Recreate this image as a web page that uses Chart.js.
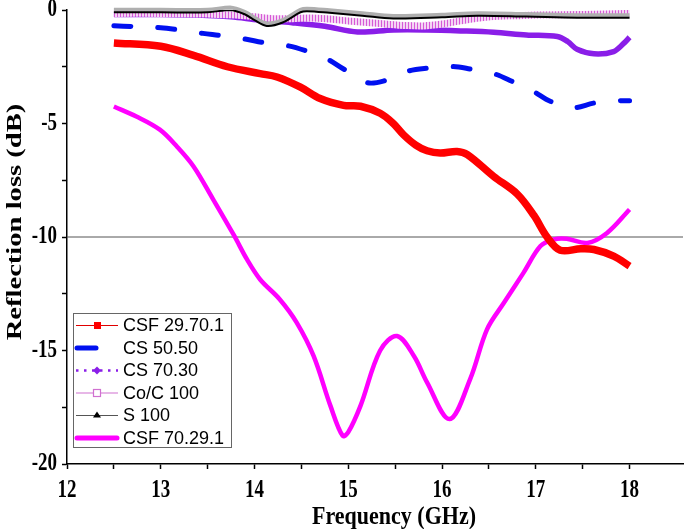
<!DOCTYPE html>
<html>
<head>
<meta charset="utf-8">
<script src="https://cdn.jsdelivr.net/npm/chart.js@4.4.0/dist/chart.umd.min.js"></script>
<style>
	html, body { margin: 0; padding: 0; background: #fff; }
	#wrap { width: 685px; height: 529px; }
</style>
</head>
<body>
<div id="wrap"><canvas id="rlChart"></canvas></div>
<script>
// values (GHz, dB)
const freqCsf29 = [12.5, 13.0, 13.35, 13.71, 14.06, 14.24, 14.49, 14.7, 14.95, 15.13, 15.34, 15.48, 15.59, 15.72, 15.84, 15.98, 16.16, 16.27, 16.55, 16.8, 16.98, 17.12, 17.26, 17.48, 17.62, 17.83, 18.0];
const lossCsf29 = [-1.45, -1.6, -2.0, -2.5, -2.8, -2.95, -3.4, -3.9, -4.2, -4.24, -4.55, -5.0, -5.5, -5.95, -6.2, -6.3, -6.23, -6.37, -7.33, -8.1, -9.05, -10.0, -10.58, -10.52, -10.55, -10.84, -11.28];

const freqCs5050 = [12.5, 12.7, 13.0, 13.2, 13.45, 13.65, 13.9, 14.1, 14.35, 14.55, 14.77, 14.95, 15.2, 15.4, 15.63, 15.85, 16.1, 16.3, 16.55, 16.76, 16.96, 17.16, 17.4, 17.62, 17.87, 18.0];
const lossCs5050 = [-0.69, -0.73, -0.78, -0.88, -1.03, -1.13, -1.28, -1.44, -1.57, -1.8, -2.15, -2.6, -3.2, -3.1, -2.7, -2.56, -2.49, -2.6, -2.8, -3.17, -3.55, -4.03, -4.3, -4.1, -4.0, -4.0];

const freqCs7030 = [12.5, 13.0, 13.5, 13.75, 14.05, 14.4, 14.75, 15.1, 15.48, 15.84, 16.2, 16.55, 16.9, 17.23, 17.34, 17.44, 17.62, 17.83, 17.94, 18.0];
const lossCs7030 = [-0.2, -0.2, -0.24, -0.3, -0.44, -0.56, -0.72, -0.97, -0.88, -0.88, -0.92, -0.98, -1.1, -1.17, -1.39, -1.73, -1.93, -1.83, -1.46, -1.2];

const freqCoC = [12.5, 13.0, 13.5, 13.8, 14.0, 14.2, 14.4, 14.6, 14.8, 15.0, 15.2, 15.4, 15.6, 15.8, 16.0, 16.2, 16.4, 16.6, 16.8, 17.0, 17.5, 18.0];
const lossCoC = [-0.15, -0.15, -0.18, -0.22, -0.3, -0.38, -0.38, -0.35, -0.4, -0.48, -0.55, -0.62, -0.68, -0.7, -0.62, -0.48, -0.35, -0.28, -0.25, -0.22, -0.2, -0.15];

const freqS100 = [12.5, 13.0, 13.5, 13.74, 13.9, 14.0, 14.13, 14.3, 14.49, 14.56, 14.8, 15.15, 15.48, 16.0, 16.38, 16.9, 17.44, 18.0];
const lossS100 = [-0.1, -0.1, -0.1, 0.0, -0.2, -0.45, -0.7, -0.55, -0.1, -0.05, -0.12, -0.25, -0.37, -0.32, -0.25, -0.29, -0.34, -0.34];

const freqCsf70 = [12.5, 12.74, 12.99, 13.17, 13.35, 13.56, 13.78, 13.92, 14.06, 14.27, 14.45, 14.63, 14.81, 14.94, 15.0, 15.13, 15.34, 15.52, 15.7, 15.84, 16.08, 16.3, 16.48, 16.66, 16.87, 17.05, 17.19, 17.33, 17.55, 17.76, 18.0];
const lossCsf70 = [-4.25, -4.69, -5.27, -6.0, -6.89, -8.35, -9.92, -10.99, -11.87, -12.75, -13.77, -15.24, -17.44, -18.76, -18.6, -17.44, -15.0, -14.36, -15.24, -16.4, -18.02, -16.26, -14.07, -12.9, -11.57, -10.4, -10.11, -10.08, -10.26, -9.82, -8.79];

const refLevel = -10;
const xLabels = [12, 13, 14, 15, 16, 17, 18];
const yLabels = [0, -5, -10, -15, -20];
const xMin = 12, xMax = 18.57, yMin = -20, yMax = 0;

const toPoints = (xs, ys) => xs.map((x, i) => ({ x: x, y: ys[i] }));

const makePattern = (w, h, paint) => {
	const c = document.createElement('canvas');
	c.width = w; c.height = h;
	const g = c.getContext('2d');
	paint(g);
	return g.createPattern(c, 'repeat');
};

// hatched band of hollow squares (Co/C 100)
const cocPattern = makePattern(3, 4, g => {
	g.fillStyle = '#f4d4f4';
	g.fillRect(0, 0, 3, 4);
	g.fillStyle = '#d65ad6';
	g.fillRect(0, 0, 1, 4);
});
// dotted grey band of triangle markers (S 100)
const s100Pattern = makePattern(2, 2, g => {
	g.fillStyle = '#e8e8e8';
	g.fillRect(0, 0, 2, 2);
	g.fillStyle = '#777';
	g.fillRect(0, 0, 1, 1);
	g.fillRect(1, 1, 1, 1);
});

const legendRows = [
	{ label: 'CSF 29.70.1', kind: 'square' },
	{ label: 'CS 50.50', kind: 'thickShort' },
	{ label: 'CS 70.30', kind: 'dotted' },
	{ label: 'Co/C 100', kind: 'hollow' },
	{ label: 'S 100', kind: 'triangle' },
	{ label: 'CSF 70.29.1', kind: 'thickLong' }
];

const tickFont = 'bold 19px "Liberation Serif"';
const stretch = 1.3;

const decorPlugin = {
	id: 'decor',
	beforeDatasetDraw(chart, args) {
		const ds = chart.data.datasets[args.index];
		if (ds.label !== 'S 100') return;
		const ctx = chart.ctx;
		const a = chart.chartArea;
		ctx.save();
		ctx.beginPath();
		ctx.rect(a.left, a.top - 6, a.width, a.height + 6);
		ctx.clip();
		ctx.translate(0, -2.5);
		ctx.beginPath();
		args.meta.dataset.path(ctx);
		ctx.lineWidth = 4;
		ctx.strokeStyle = s100Pattern;
		ctx.stroke();
		ctx.restore();
	},
	afterDraw(chart) {
		const ctx = chart.ctx;
		const xs = chart.scales.x, ys = chart.scales.y;

		// tick labels, drawn tall like the original
		ctx.save();
		ctx.fillStyle = '#000';
		ctx.font = tickFont;
		ctx.textBaseline = 'middle';
		ctx.textAlign = 'center';
		xLabels.forEach(v => {
			ctx.save();
			ctx.translate(xs.getPixelForValue(v), 491);
			ctx.scale(1, stretch);
			ctx.fillText(String(v), 0, 0);
			ctx.restore();
		});
		ctx.textAlign = 'right';
		yLabels.forEach(v => {
			ctx.save();
			ctx.translate(57, ys.getPixelForValue(v));
			ctx.scale(1, stretch);
			ctx.fillText(String(v), 0, 0);
			ctx.restore();
		});

		// axis titles
		ctx.textAlign = 'center';
		ctx.font = 'bold 22px "Liberation Serif"';
		ctx.save();
		ctx.translate(394, 517);
		ctx.scale(1, 1.15);
		ctx.fillText('Frequency (GHz)', 0, 0);
		ctx.restore();

		ctx.translate(15, 222);
		ctx.rotate(-Math.PI / 2);
		ctx.scale(stretch, 1);
		ctx.fillText('Reflection loss (dB)', 0, 0);
		ctx.restore();

		// legend box
		const lx = 73, ly = 313, lw = 158, lh = 134;
		ctx.save();
		ctx.fillStyle = '#fff';
		ctx.fillRect(lx, ly, lw, lh);
		ctx.strokeStyle = '#666';
		ctx.lineWidth = 1;
		ctx.strokeRect(lx + 0.5, ly + 0.5, lw, lh);
		ctx.font = '18px "Liberation Sans"';
		ctx.textBaseline = 'middle';
		ctx.textAlign = 'left';
		legendRows.forEach((row, i) => {
			const y = 325.5 + i * 22.5;
			const ds = chart.data.datasets.find(d => d.label === row.label);
			ctx.setLineDash([]);
			ctx.lineCap = 'butt';
			if (row.kind === 'square') {
				ctx.strokeStyle = '#e00000'; ctx.lineWidth = 1.2;
				ctx.beginPath(); ctx.moveTo(76, y); ctx.lineTo(118, y); ctx.stroke();
				ctx.fillStyle = '#f00'; ctx.fillRect(94, y - 3.5, 7, 7);
			} else if (row.kind === 'thickShort') {
				ctx.strokeStyle = ds.borderColor; ctx.lineWidth = 5; ctx.lineCap = 'round';
				ctx.beginPath(); ctx.moveTo(77, y); ctx.lineTo(96, y); ctx.stroke();
			} else if (row.kind === 'dotted') {
				ctx.strokeStyle = ds.borderColor; ctx.lineWidth = 2.5; ctx.setLineDash([2.5, 5.5]);
				ctx.beginPath(); ctx.moveTo(76, y); ctx.lineTo(118, y); ctx.stroke();
				ctx.setLineDash([]);
				ctx.fillStyle = ds.borderColor;
				ctx.beginPath(); ctx.moveTo(97, y - 4); ctx.lineTo(101, y); ctx.lineTo(97, y + 4); ctx.lineTo(93, y); ctx.closePath(); ctx.fill();
			} else if (row.kind === 'hollow') {
				ctx.strokeStyle = '#d070d0'; ctx.lineWidth = 1.2;
				ctx.beginPath(); ctx.moveTo(76, y); ctx.lineTo(93, y); ctx.moveTo(101, y); ctx.lineTo(118, y); ctx.stroke();
				ctx.strokeRect(93.5, y - 3.5, 7, 7);
			} else if (row.kind === 'triangle') {
				ctx.strokeStyle = '#555'; ctx.lineWidth = 1;
				ctx.beginPath(); ctx.moveTo(76, y); ctx.lineTo(118, y); ctx.stroke();
				ctx.fillStyle = '#000';
				ctx.beginPath(); ctx.moveTo(97, y - 4); ctx.lineTo(101, y + 2); ctx.lineTo(93, y + 2); ctx.closePath(); ctx.fill();
			} else {
				ctx.strokeStyle = ds.borderColor; ctx.lineWidth = 5; ctx.lineCap = 'round';
				ctx.beginPath(); ctx.moveTo(77, y); ctx.lineTo(117, y); ctx.stroke();
			}
			ctx.fillStyle = '#000';
			ctx.fillText(row.label, 123, y + 1);
		});
		ctx.restore();
	}
};

const tickGrid = { drawOnChartArea: false, drawTicks: true, tickLength: 5, tickColor: '#000', tickWidth: 1.5 };

new Chart(document.getElementById('rlChart').getContext('2d'), {
	type: 'line',
	data: {
		datasets: [
			{
				label: 'S 100',
				data: toPoints(freqS100, lossS100),
				borderColor: '#000',
				borderWidth: 2,
				order: 1
			},
			{
				label: 'Co/C 100',
				data: toPoints(freqCoC, lossCoC),
				borderColor: cocPattern,
				borderWidth: 7,
				order: 2
			},
			{
				label: 'CS 70.30',
				data: toPoints(freqCs7030, lossCs7030),
				borderColor: '#8a1ee8',
				borderWidth: 5.5,
				order: 3
			},
			{
				label: 'CS 50.50',
				data: toPoints(freqCs5050, lossCs5050),
				borderColor: '#0010f0',
				borderWidth: 5,
				borderDash: [17, 27],
				borderCapStyle: 'round',
				order: 4
			},
			{
				label: 'CSF 29.70.1',
				data: toPoints(freqCsf29, lossCsf29),
				borderColor: '#ff0000',
				borderWidth: 7.5,
				order: 5
			},
			{
				label: 'CSF 70.29.1',
				data: toPoints(freqCsf70, lossCsf70),
				borderColor: '#ff00ff',
				borderWidth: 4.5,
				order: 6
			},
			{
				label: 'ref',
				data: toPoints([xMin, xMax], [refLevel, refLevel]),
				borderColor: '#555',
				borderWidth: 1,
				tension: 0,
				order: 7
			}
		]
	},
	options: {
		responsive: true,
		maintainAspectRatio: false,
		animation: false,
		events: [],
		layout: { padding: { top: 0, right: 2, left: 0, bottom: 0 } },
		elements: {
			point: { radius: 0, hitRadius: 0 },
			line: { tension: 0.35, fill: false }
		},
		scales: {
			x: {
				type: 'linear',
				min: xMin,
				max: xMax,
				afterFit: s => { s.height = 65; s.paddingLeft = 0; s.paddingRight = 0; },
				afterBuildTicks: s => { s.ticks = s.ticks.filter(t => Math.abs(t.value * 2 - Math.round(t.value * 2)) < 1e-6); },
				ticks: { stepSize: 0.5, autoSkip: false, maxRotation: 0, display: false },
				grid: tickGrid,
				border: { color: '#000', width: 1.5 }
			},
			y: {
				min: yMin,
				max: yMax,
				afterFit: s => { s.width = 67; s.paddingTop = 10; s.paddingBottom = 0; },
				ticks: { stepSize: 2.5, autoSkip: false, display: false },
				grid: tickGrid,
				border: { color: '#000', width: 1.5 }
			}
		},
		plugins: {
			legend: { display: false },
			tooltip: { enabled: false }
		}
	},
	plugins: [decorPlugin]
});
</script>
</body>
</html>
